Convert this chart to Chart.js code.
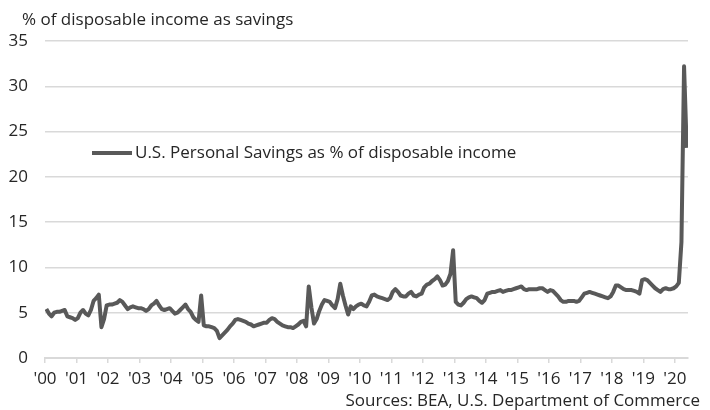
<!DOCTYPE html>
<html>
<head>
<meta charset="utf-8">
<script src="https://cdn.jsdelivr.net/npm/chart.js@4"></script>
<style>
  html, body { margin: 0; padding: 0; background: #fff; }
  #wrap { width: 710px; height: 410px; }
</style>
</head>
<body>
<div id="wrap"><canvas id="savingsChart" width="710" height="410"></canvas></div>
<script>
// tick labels, one per January
const yearTicks = ["'00", "'01", "'02", "'03", "'04", "'05", "'06", "'07", "'08", "'09", "'10",
                   "'11", "'12", "'13", "'14", "'15", "'16", "'17", "'18", "'19", "'20"];

const seriesLabel = 'U.S. Personal Savings as % of disposable income';
const axisTitle = '% of disposable income as savings';
const sourceNote = 'Sources: BEA, U.S. Department of Commerce';

// monthly savings rate, Jan 2000 .. May 2020
const savingsRate = [
  5.4, 4.9, 4.6, 5.0, 5.1, 5.1, 5.2, 5.3, 4.6, 4.5, 4.4, 4.2,   // 2000
  4.4, 5.0, 5.3, 4.9, 4.7, 5.3, 6.3, 6.6, 7.0, 3.4, 4.3, 5.8,   // 2001
  5.9, 5.9, 6.0, 6.1, 6.4, 6.2, 5.8, 5.4, 5.6, 5.7, 5.6, 5.5,   // 2002
  5.5, 5.4, 5.2, 5.4, 5.8, 6.0, 6.3, 5.8, 5.4, 5.3, 5.4, 5.5,   // 2003
  5.2, 4.9, 5.0, 5.3, 5.6, 5.9, 5.4, 5.1, 4.5, 4.2, 4.0, 6.9,   // 2004
  3.6, 3.5, 3.5, 3.4, 3.3, 3.0, 2.2, 2.5, 2.8, 3.1, 3.5, 3.8,   // 2005
  4.2, 4.3, 4.2, 4.1, 4.0, 3.8, 3.7, 3.5, 3.6, 3.7, 3.8, 3.9,   // 2006
  3.9, 4.2, 4.4, 4.3, 4.0, 3.8, 3.6, 3.5, 3.4, 3.4, 3.3, 3.5,   // 2007
  3.7, 4.0, 4.1, 3.5, 7.9, 5.6, 3.8, 4.3, 5.2, 5.9, 6.4, 6.3,   // 2008
  6.2, 5.8, 5.5, 6.5, 8.2, 6.9, 5.8, 4.8, 5.7, 5.4, 5.7, 5.9,   // 2009
  6.0, 5.8, 5.7, 6.2, 6.9, 7.0, 6.8, 6.7, 6.6, 6.5, 6.4, 6.6,   // 2010
  7.3, 7.6, 7.3, 6.9, 6.8, 6.8, 7.1, 7.3, 6.9, 6.8, 7.0, 7.1,   // 2011
  7.8, 8.1, 8.2, 8.5, 8.7, 9.0, 8.6, 8.0, 8.1, 8.5, 9.3, 11.9,  // 2012
  6.2, 5.9, 5.8, 6.1, 6.5, 6.7, 6.8, 6.7, 6.6, 6.3, 6.1, 6.4,   // 2013
  7.1, 7.2, 7.3, 7.3, 7.4, 7.5, 7.3, 7.4, 7.5, 7.5, 7.6, 7.7,   // 2014
  7.8, 7.9, 7.6, 7.5, 7.6, 7.6, 7.6, 7.6, 7.7, 7.7, 7.5, 7.3,   // 2015
  7.5, 7.4, 7.1, 6.8, 6.4, 6.2, 6.2, 6.3, 6.3, 6.3, 6.2, 6.3,   // 2016
  6.7, 7.1, 7.2, 7.3, 7.2, 7.1, 7.0, 6.9, 6.8, 6.7, 6.6, 6.8,   // 2017
  7.3, 8.0, 8.0, 7.8, 7.6, 7.5, 7.5, 7.5, 7.4, 7.3, 7.1, 8.6,   // 2018
  8.7, 8.6, 8.3, 8.0, 7.7, 7.5, 7.3, 7.6, 7.7, 7.6, 7.6, 7.7,   // 2019
  7.9, 8.3, 12.8, 32.2, 23.2                                    // 2020
];

const monthIndex = savingsRate.map((v, i) => i);

const fontFamily = '"Open Sans", Lato, sans-serif';
const fontSize = 17;
const textColor = '#262626';
const gridColor = '#d9d9d9';
const lineColor = '#595959';

Chart.defaults.font.family = fontFamily;
Chart.defaults.font.size = fontSize;
Chart.defaults.color = textColor;

// title, source note and the legend that sits inside the plot
const chartText = {
  id: 'chartText',
  afterDraw(chart) {
    const ctx = chart.ctx;
    const area = chart.chartArea;
    const ds = chart.data.datasets[0];
    ctx.save();
    ctx.font = fontSize + 'px ' + fontFamily;
    ctx.fillStyle = textColor;
    ctx.textBaseline = 'middle';

    ctx.textAlign = 'left';
    ctx.fillText(axisTitle, 22, 20);

    ctx.textAlign = 'right';
    ctx.fillText(sourceNote, 700, 401);

    const lx = area.left + 47, ly = area.top + 112;
    ctx.strokeStyle = ds.borderColor;
    ctx.lineWidth = 4;
    ctx.beginPath();
    ctx.moveTo(lx, ly);
    ctx.lineTo(lx + 40, ly);
    ctx.stroke();
    ctx.textAlign = 'left';
    ctx.fillText(ds.label, lx + 43, ly);
    ctx.restore();
  }
};

new Chart(document.getElementById('savingsChart'), {
  type: 'line',
  data: {
    labels: monthIndex,
    datasets: [{
      label: seriesLabel,
      data: savingsRate,
      borderColor: lineColor,
      borderWidth: 4,
      borderJoinStyle: 'round',
      pointRadius: 0,
      tension: 0,
      fill: false
    }]
  },
  options: {
    responsive: false,
    devicePixelRatio: 1,
    animation: false,
    layout: { padding: { top: 41, right: 22, bottom: 0, left: 0 } },
    plugins: {
      legend: { display: false },
      tooltip: { enabled: false }
    },
    scales: {
      x: {
        type: 'linear',
        min: -0.5,
        max: savingsRate.length - 0.5,
        afterFit(scale) { scale.height = 52; },
        afterBuildTicks(scale) {
          scale.ticks = yearTicks.map((t, k) => ({ value: -0.5 + 12 * k }));
        },
        ticks: {
          autoSkip: false,
          maxRotation: 0,
          padding: 6,
          color: textColor,
          callback: (value, index) => yearTicks[index]
        },
        grid: {
          drawOnChartArea: false,
          drawTicks: true,
          tickLength: 5,
          color: gridColor,
          lineWidth: 1.5
        },
        border: { color: gridColor, width: 2 }
      },
      y: {
        min: 0,
        max: 35,
        afterFit(scale) { scale.width = 45; },
        ticks: {
          stepSize: 5,
          padding: 17,
          color: textColor
        },
        grid: {
          drawTicks: false,
          color: gridColor,
          lineWidth: 1.5
        },
        border: { display: false }
      }
    }
  },
  plugins: [chartText]
});
</script>
</body>
</html>
